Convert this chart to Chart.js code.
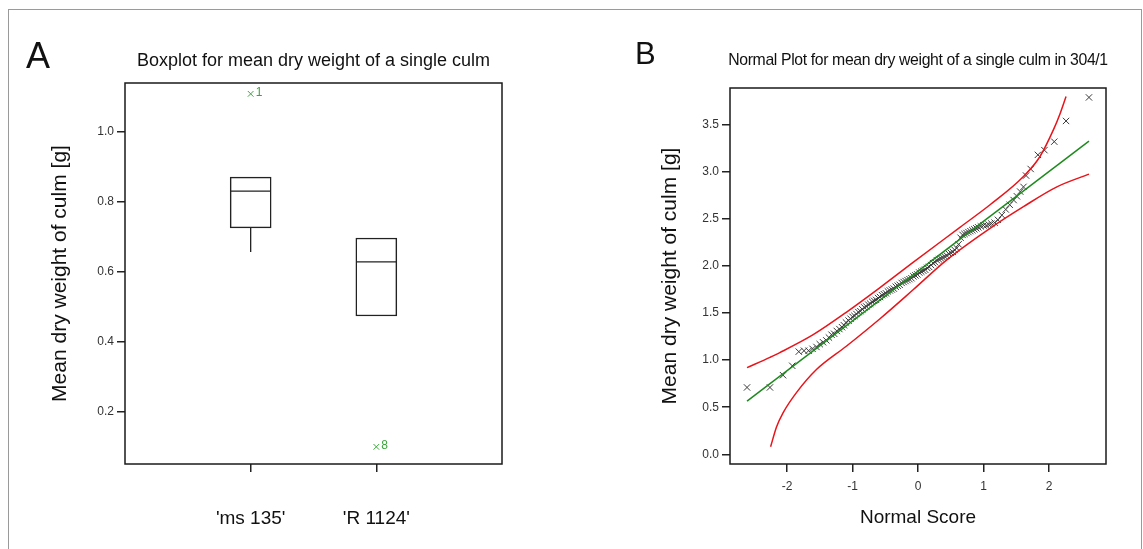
<!DOCTYPE html>
<html>
<head>
<meta charset="utf-8">
<script src="https://cdn.jsdelivr.net/npm/chart.js@4/dist/chart.umd.min.js"></script>
<style>
body{margin:0;background:#fff;font-family:"Liberation Sans",Arial,sans-serif;}
#wrap{position:relative;width:1143px;height:549px;overflow:hidden;}
#frame{position:absolute;left:8px;top:9px;width:1132px;height:600px;border:1.5px solid #9a9a9a;}
.lab{position:absolute;color:#111;white-space:nowrap;}
</style>
</head>
<body>
<div id="wrap">
  <div id="frame"></div>
  <canvas id="chartA" width="570" height="549" style="position:absolute;left:0;top:0"></canvas>
  <canvas id="chartB" width="573" height="549" style="position:absolute;left:570px;top:0"></canvas>
  <div class="lab" style="left:26px;top:38px;font-size:36px;line-height:36px">A</div>
  <div class="lab" style="left:635px;top:38px;font-size:31px;line-height:31px">B</div>
  <div class="lab" style="left:125px;top:50px;width:377px;text-align:center;font-size:18px;line-height:20px">Boxplot for mean dry weight of a single culm</div>
  <div class="lab" style="left:700px;top:50px;width:436px;text-align:center;font-size:17px;line-height:20px;letter-spacing:-0.4px;transform:scaleX(0.93)">Normal Plot for mean dry weight of a single culm in 304/1</div>
</div>
<script>
// panel A : boxplot
var categories = ["'ms 135'", "'R 1124'"];
var boxQ1 = [0.726, 0.474];
var boxMedian = [0.831, 0.629];
var boxQ3 = [0.871, 0.697];
var whiskerLow = [0.657, 0.474];
var whiskerHigh = [0.871, 0.697];
var outlierGroup = [1, 2];
var outlierValue = [1.109, 0.100];
var outlierLabel = ['1', '8'];
var yTicksA = [0.2, 0.4, 0.6, 0.8, 1.0];

// panel B : normal plot
var normalScore = [-2.61,-2.26,-2.06,-1.92,-1.82,-1.74,-1.67,-1.61,-1.55,-1.50,-1.45,-1.40,-1.36,-1.32,-1.28,-1.24,-1.20,-1.16,-1.13,-1.10,
  -1.06,-1.03,-1.00,-0.97,-0.94,-0.91,-0.88,-0.85,-0.82,-0.79,-0.76,-0.73,-0.70,-0.67,-0.64,-0.61,-0.58,-0.55,-0.52,-0.49,
  -0.46,-0.43,-0.40,-0.37,-0.34,-0.31,-0.28,-0.25,-0.22,-0.19,-0.16,-0.13,-0.10,-0.07,-0.04,-0.01,0.02,0.05,0.08,0.11,
  0.14,0.17,0.20,0.23,0.26,0.29,0.32,0.35,0.38,0.41,0.44,0.47,0.50,0.53,0.56,0.59,0.62,0.65,0.68,0.71,
  0.74,0.77,0.80,0.83,0.86,0.89,0.92,0.96,1.00,1.04,1.08,1.12,1.17,1.22,1.28,1.34,1.40,1.46,1.51,1.56,
  1.61,1.65,1.72,1.83,1.93,2.08,2.26,2.61];
var dryWeight = [0.71,0.71,0.84,0.94,1.09,1.10,1.10,1.12,1.14,1.17,1.19,1.21,1.24,1.27,1.28,1.31,1.33,1.35,1.37,1.40,
  1.42,1.44,1.46,1.47,1.49,1.51,1.52,1.54,1.56,1.57,1.59,1.60,1.62,1.63,1.64,1.66,1.67,1.69,1.70,1.71,
  1.73,1.74,1.75,1.76,1.78,1.79,1.80,1.82,1.83,1.84,1.85,1.86,1.87,1.89,1.90,1.91,1.93,1.94,1.95,1.96,
  1.98,1.99,2.01,2.03,2.04,2.06,2.07,2.08,2.09,2.10,2.11,2.13,2.14,2.15,2.17,2.19,2.23,2.30,2.33,2.34,
  2.35,2.36,2.37,2.38,2.39,2.40,2.41,2.42,2.43,2.43,2.44,2.45,2.46,2.49,2.54,2.60,2.65,2.70,2.74,2.79,
  2.84,2.96,3.03,3.18,3.23,3.32,3.54,3.79];
var fitX = [-2.61, 2.61];
var fitY = [0.565, 3.325];
var upperX = [-2.61,-2.26,-2.11,-1.60,-1.09,-0.58,-0.07,0.64,1.10,1.61,1.86,2.07,2.17,2.26];
var upperY = [0.92,1.03,1.08,1.27,1.51,1.77,2.04,2.41,2.65,2.95,3.16,3.45,3.62,3.80];
var lowerX = [-2.25,-2.16,-2.06,-1.85,-1.55,-1.09,-0.58,-0.07,0.44,1.10,1.61,2.12,2.61];
var lowerY = [0.08,0.29,0.44,0.66,0.90,1.15,1.44,1.75,2.065,2.40,2.63,2.84,2.975];
var xTicksB = [-2, -1, 0, 1, 2];
var yTicksB = [0.0, 0.5, 1.0, 1.5, 2.0, 2.5, 3.0, 3.5];

Chart.defaults.font.family = "'Liberation Sans', Arial, sans-serif";
Chart.defaults.color = '#222';

function pairs(xs, ys){
  var out = [];
  for (var i = 0; i < xs.length; i++) out.push({x: xs[i], y: ys[i]});
  return out;
}

var frameBox = {
  id: 'frameBox',
  afterDatasetsDraw: function(chart){
    var a = chart.chartArea, ctx = chart.ctx;
    ctx.save();
    ctx.strokeStyle = '#1a1a1a';
    ctx.lineWidth = 1.5;
    ctx.strokeRect(a.left, a.top, a.right - a.left, a.bottom - a.top);
    ctx.restore();
  }
};

// medians, whiskers and outlier numbers for the boxplot
var boxExtras = {
  id: 'boxExtras',
  afterDatasetsDraw: function(chart){
    var ctx = chart.ctx, xs = chart.scales.x, ys = chart.scales.y;
    var half = 20;
    ctx.save();
    ctx.strokeStyle = '#222';
    ctx.lineWidth = 1.3;
    for (var i = 0; i < categories.length; i++){
      var px = xs.getPixelForValue(i + 1);
      ctx.beginPath();
      ctx.moveTo(px - half, ys.getPixelForValue(boxMedian[i]));
      ctx.lineTo(px + half, ys.getPixelForValue(boxMedian[i]));
      if (whiskerLow[i] < boxQ1[i]){
        ctx.moveTo(px, ys.getPixelForValue(boxQ1[i]));
        ctx.lineTo(px, ys.getPixelForValue(whiskerLow[i]));
      }
      if (whiskerHigh[i] > boxQ3[i]){
        ctx.moveTo(px, ys.getPixelForValue(boxQ3[i]));
        ctx.lineTo(px, ys.getPixelForValue(whiskerHigh[i]));
      }
      ctx.stroke();
    }
    ctx.fillStyle = '#3aa63a';
    ctx.font = "12px 'Liberation Sans', Arial, sans-serif";
    ctx.textBaseline = 'middle';
    for (var j = 0; j < outlierValue.length; j++){
      ctx.fillText(outlierLabel[j], xs.getPixelForValue(outlierGroup[j]) + 5, ys.getPixelForValue(outlierValue[j]) - 1);
    }
    ctx.restore();
  }
};

new Chart(document.getElementById('chartA'), {
  data: {
    datasets: [
      {
        type: 'scatter',
        data: pairs(outlierGroup, outlierValue),
        pointStyle: 'crossRot',
        pointRadius: 4,
        borderColor: '#3aa63a',
        borderWidth: 1
      },
      {
        type: 'bar',
        data: boxQ1.map(function(v, i){ return {x: i + 1, y: [v, boxQ3[i]]}; }),
        backgroundColor: '#fff',
        borderColor: '#222',
        borderWidth: 1.5,
        borderSkipped: false,
        barThickness: 41
      }
    ]
  },
  options: {
    responsive: false,
    animation: false,
    layout: {padding: {left: 0, top: 83, right: 68, bottom: 0}},
    plugins: {legend: {display: false}, tooltip: {enabled: false}},
    scales: {
      x: {
        type: 'linear',
        position: 'bottom',
        min: 0,
        max: 3,
        offset: false,
        afterBuildTicks: function(s){ s.ticks = [1, 2].map(function(v){ return {value: v}; }); },
        afterFit: function(s){ s.height = 85; },
        grid: {offset: false, drawOnChartArea: false, tickLength: 8, tickColor: '#222', lineWidth: 1.5},
        border: {display: false},
        ticks: {
          padding: 35,
          font: {size: 19},
          color: '#111',
          callback: function(v){ return categories[Math.round(v) - 1]; }
        }
      },
      y: {
        type: 'linear',
        position: 'left',
        min: 0.051,
        max: 1.14,
        afterBuildTicks: function(s){ s.ticks = yTicksA.map(function(v){ return {value: v}; }); },
        afterFit: function(s){ s.width = 125; },
        grid: {drawOnChartArea: false, tickLength: 8, tickColor: '#222', lineWidth: 1.5},
        border: {display: false},
        ticks: {
          padding: 3,
          font: {size: 12},
          color: '#333',
          callback: function(v){ return v.toFixed(1); }
        },
        title: {
          display: true,
          text: 'Mean dry weight of culm [g]',
          font: {size: 21},
          color: '#111',
          padding: {top: 48, bottom: 0}
        }
      }
    }
  },
  plugins: [frameBox, boxExtras]
});

new Chart(document.getElementById('chartB'), {
  type: 'scatter',
  data: {
    datasets: [
      {
        data: pairs(upperX, upperY),
        showLine: true,
        borderColor: '#e8141a',
        borderWidth: 1.5,
        pointRadius: 0,
        cubicInterpolationMode: 'monotone',
        fill: false
      },
      {
        data: pairs(lowerX, lowerY),
        showLine: true,
        borderColor: '#e8141a',
        borderWidth: 1.5,
        pointRadius: 0,
        cubicInterpolationMode: 'monotone',
        fill: false
      },
      {
        data: pairs(fitX, fitY),
        showLine: true,
        borderColor: '#1e8a1e',
        borderWidth: 1.5,
        pointRadius: 0,
        fill: false
      },
      {
        data: pairs(normalScore, dryWeight),
        pointStyle: 'crossRot',
        pointRadius: 4.5,
        borderColor: '#3a3a3a',
        borderWidth: 1
      }
    ]
  },
  options: {
    responsive: false,
    animation: false,
    layout: {padding: {left: 0, top: 88, right: 37, bottom: 0}},
    plugins: {legend: {display: false}, tooltip: {enabled: false}},
    scales: {
      x: {
        type: 'linear',
        min: -2.87,
        max: 2.87,
        afterBuildTicks: function(s){ s.ticks = xTicksB.map(function(v){ return {value: v}; }); },
        afterFit: function(s){ s.height = 85; },
        grid: {drawOnChartArea: false, tickLength: 8, tickColor: '#222', lineWidth: 1.5},
        border: {display: false},
        ticks: {
          padding: 7,
          font: {size: 12},
          color: '#333',
          callback: function(v){ return String(v); }
        },
        title: {
          display: true,
          text: 'Normal Score',
          font: {size: 19},
          color: '#111',
          padding: {top: 0, bottom: 20}
        }
      },
      y: {
        type: 'linear',
        min: -0.103,
        max: 3.89,
        afterBuildTicks: function(s){ s.ticks = yTicksB.map(function(v){ return {value: v}; }); },
        afterFit: function(s){ s.width = 160; },
        grid: {drawOnChartArea: false, tickLength: 8, tickColor: '#222', lineWidth: 1.5},
        border: {display: false},
        ticks: {
          padding: 3,
          font: {size: 12},
          color: '#333',
          callback: function(v){ return v.toFixed(1); }
        },
        title: {
          display: true,
          text: 'Mean dry weight of culm [g]',
          font: {size: 21},
          color: '#111',
          padding: {top: 88, bottom: 0}
        }
      }
    }
  },
  plugins: [frameBox]
});
</script>
</body>
</html>
